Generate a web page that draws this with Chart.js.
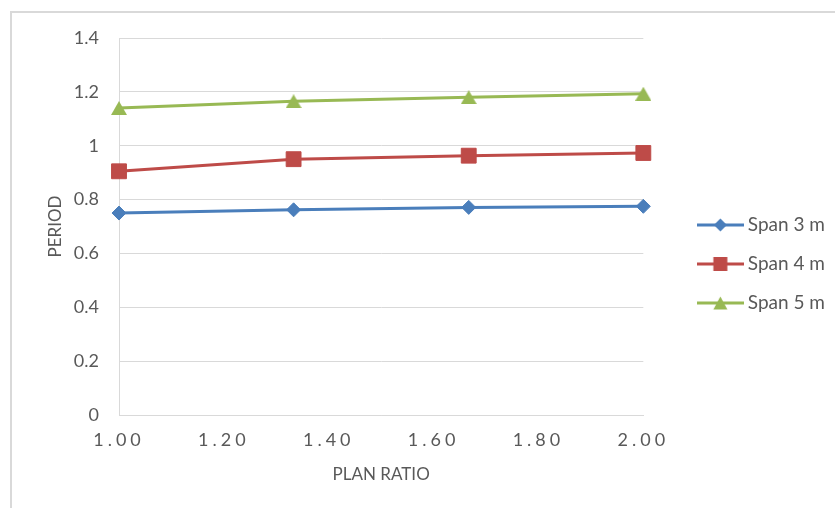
<!DOCTYPE html>
<html>
<head>
<meta charset="utf-8">
<script src="https://cdn.jsdelivr.net/npm/chart.js@4/dist/chart.umd.min.js"></script>
<style>
  html, body { margin: 0; padding: 0; background: #fff; overflow: hidden; }
  #frame { position: absolute; left: 10px; top: 11px; width: 900px; height: 600px;
           border-left: 2px solid #d9d9d9; border-top: 2px solid #d9d9d9; }
  #c { position: absolute; left: 0; top: 0; }
</style>
</head>
<body>
<div id="frame"></div>
<canvas id="c" width="835" height="508"></canvas>
<script>
// Plan ratio (x) and natural period of each span
const planRatio = [1.000, 1.333, 1.667, 2.000];
const span3 = [0.750, 0.762, 0.771, 0.775];
const span4 = [0.905, 0.950, 0.963, 0.973];
const span5 = [1.140, 1.165, 1.180, 1.193];
const seriesNames = ['Span 3 m', 'Span 4 m', 'Span 5 m'];
const xTickLabels = ['1.00', '1.20', '1.40', '1.60', '1.80', '2.00'];
const yTickLabels = ['0', '0.2', '0.4', '0.6', '0.8', '1', '1.2', '1.4'];

const colors = ['#4a7ebb', '#be4b48', '#98b954'];
const textColor = '#595959';
const gridColor = '#d9d9d9';

Chart.defaults.font.family = 'Lato, "Open Sans", sans-serif';
Chart.defaults.color = textColor;

function makeCanvas(w, h) {
  const c = document.createElement('canvas');
  c.width = w; c.height = h;
  return c;
}

// triangle marker whose box is centred on the point
function triangleImg(color, w, h) {
  const c = makeCanvas(w, h);
  const g = c.getContext('2d');
  g.fillStyle = color;
  g.beginPath();
  g.moveTo(w / 2, 0);
  g.lineTo(w, h);
  g.lineTo(0, h);
  g.closePath();
  g.fill();
  return c;
}

// legend sample: a short line with the series marker in the middle
function legendImg(color, kind) {
  const w = 47, h = 16, cx = w / 2, cy = h / 2;
  const c = makeCanvas(w, h);
  const g = c.getContext('2d');
  g.strokeStyle = color;
  g.lineWidth = 3;
  g.beginPath(); g.moveTo(0, cy); g.lineTo(w, cy); g.stroke();
  g.fillStyle = color;
  g.beginPath();
  if (kind === 'diamond') {
    g.moveTo(cx, cy - 6.5); g.lineTo(cx + 6.5, cy); g.lineTo(cx, cy + 6.5); g.lineTo(cx - 6.5, cy);
  } else if (kind === 'square') {
    g.rect(cx - 7, cy - 7, 14, 14);
  } else {
    g.moveTo(cx, cy - 6.5); g.lineTo(cx + 7, cy + 6.5); g.lineTo(cx - 7, cy + 6.5);
  }
  g.closePath();
  g.fill();
  return c;
}

const legendImgs = [
  legendImg(colors[0], 'diamond'),
  legendImg(colors[1], 'square'),
  legendImg(colors[2], 'triangle')
];

function points(ys) {
  return planRatio.map((x, i) => ({ x: x, y: ys[i] }));
}

const xTickValues = xTickLabels.map(Number);

// x tick labels are drawn with wide letter spacing
const tickSpacing = {
  id: 'tickSpacing',
  afterDatasetsDraw(chart) { chart.ctx.letterSpacing = '4px'; },
  afterDraw(chart) { chart.ctx.letterSpacing = '0px'; }
};

new Chart(document.getElementById('c'), {
  type: 'line',
  data: {
    datasets: [
      {
        label: seriesNames[0], data: points(span3),
        borderColor: colors[0], backgroundColor: colors[0], borderWidth: 3,
        pointStyle: 'rectRot', pointRadius: 7, pointBorderWidth: 1,
        pointBackgroundColor: colors[0], pointBorderColor: colors[0], clip: false
      },
      {
        label: seriesNames[1], data: points(span4),
        borderColor: colors[1], backgroundColor: colors[1], borderWidth: 3,
        pointStyle: 'rect', pointRadius: 10.5, pointBorderWidth: 1,
        pointBackgroundColor: colors[1], pointBorderColor: colors[1], clip: false
      },
      {
        label: seriesNames[2], data: points(span5),
        borderColor: colors[2], backgroundColor: colors[2], borderWidth: 3,
        pointStyle: triangleImg(colors[2], 16, 14), pointRadius: 8,
        clip: false
      }
    ]
  },
  options: {
    responsive: false,
    animation: false,
    devicePixelRatio: 1,
    layout: { padding: { top: 38, right: 0, bottom: 18, left: 0 } },
    plugins: {
      tooltip: { enabled: false },
      legend: {
        position: 'right',
        align: 'center',
        maxWidth: 300,
        labels: {
          usePointStyle: true,
          pointStyleWidth: 36,
          padding: 20,
          color: textColor,
          font: { size: 19 },
          generateLabels(chart) {
            return chart.data.datasets.map((ds, i) => ({
              text: ds.label,
              pointStyle: legendImgs[i],
              fillStyle: colors[i],
              strokeStyle: colors[i],
              lineWidth: 0,
              fontColor: textColor,
              hidden: false,
              datasetIndex: i
            }));
          }
        }
      }
    },
    scales: {
      x: {
        type: 'linear',
        min: 1, max: 2,
        afterBuildTicks(scale) { scale.ticks = xTickValues.map(v => ({ value: v })); },
        afterFit(scale) { scale.height = 75; },
        grid: { display: false, drawTicks: false },
        border: { display: true, color: gridColor, width: 1 },
        ticks: {
          z: 1,
          padding: 14,
          color: textColor,
          font: { size: 18 },
          maxRotation: 0,
          callback(v, i) { return xTickLabels[i]; }
        },
        title: {
          display: true, text: 'PLAN RATIO', color: textColor,
          font: { size: 17 }, padding: { top: 0, bottom: 5 }
        }
      },
      y: {
        min: 0, max: 1.4,
        afterBuildTicks(scale) { scale.ticks = yTickLabels.map(v => ({ value: Number(v) })); },
        afterFit(scale) { scale.width = 119; },
        grid: { color: gridColor, lineWidth: 1, drawTicks: false },
        border: { display: true, color: gridColor, width: 1 },
        ticks: {
          padding: 20,
          color: textColor,
          font: { size: 18 },
          callback(v, i) { return yTickLabels[i]; }
        },
        title: {
          display: true, text: 'PERIOD', color: textColor,
          font: { size: 17 }, padding: { top: 45, bottom: 0 }
        }
      },
      gap: {
        position: 'right',
        display: true,
        afterFit(scale) { scale.width = 39; },
        grid: { display: false, drawTicks: false },
        border: { display: false },
        ticks: { display: false }
      }
    }
  },
  plugins: [tickSpacing]
});
</script>
</body>
</html>
